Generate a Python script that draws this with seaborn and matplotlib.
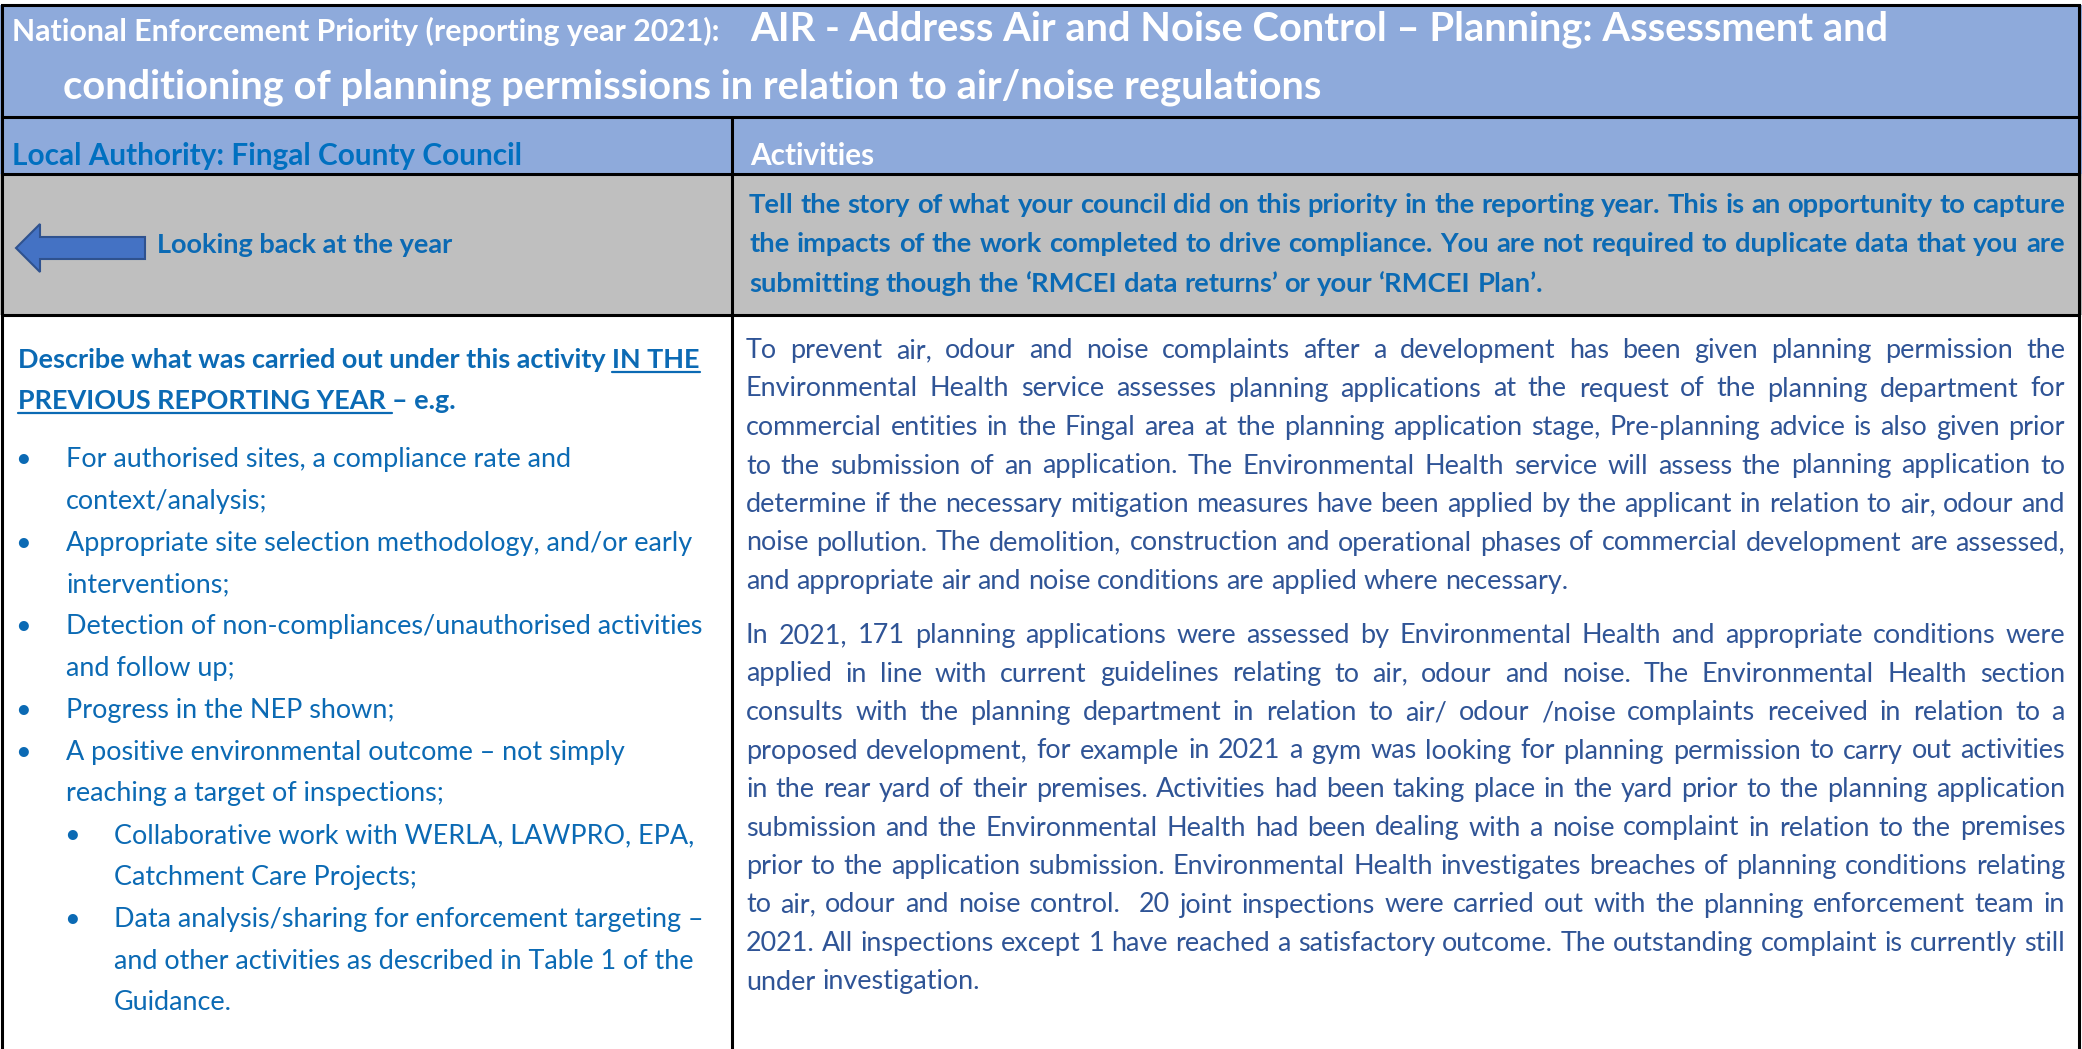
import matplotlib.pyplot as plt
import seaborn as sns
from matplotlib.patches import Rectangle, Polygon

# --- texte du tableau ---
title_small = "National Enforcement Priority (reporting year 2021):"
title_big = ["AIR - Address Air and Noise Control \u2013 Planning: Assessment and",
             "conditioning of planning permissions in relation to air/noise regulations"]
left_head = "Local Authority: Fingal County Council"
right_head = "Activities"
arrow_label = "Looking back at the year"
gray_lines = ["Tell the story of what your council did on this priority in the reporting year. This is an opportunity to capture",
              "the impacts of the work completed to drive compliance. You are not required to duplicate data that you are",
              "submitting though the \u2018RMCEI data returns\u2019 or your \u2018RMCEI Plan\u2019."]
describe_runs = [[("Describe what was carried out under this activity ", False), ("IN THE", True)],
                 [("PREVIOUS REPORTING YEAR ", True), ("\u2013 e.g.", False)]]
# (puce, texte) ; puce 0 = puce, 1 = sous-puce, None = suite de ligne
left_lines = [(0, "For authorised sites, a compliance rate and"),
              (None, "context/analysis;"),
              (0, "Appropriate site selection methodology, and/or early"),
              (None, "interventions;"),
              (0, "Detection of non-compliances/unauthorised activities"),
              (None, "and follow up;"),
              (0, "Progress in the NEP shown;"),
              (0, "A positive environmental outcome \u2013 not simply"),
              (None, "reaching a target of inspections;"),
              (1, "Collaborative work with WERLA, LAWPRO, EPA,"),
              (None, "Catchment Care Projects;"),
              (1, "Data analysis/sharing for enforcement targeting \u2013"),
              (None, "and other activities as described in Table 1 of the"),
              (None, "Guidance.")]
left_level = [0, 0, 0, 0, 0, 0, 0, 0, 0, 1, 1, 1, 1, 1]
para1 = ["To prevent air, odour and noise complaints after a development has been given planning permission the",
         "Environmental Health service assesses planning applications at the request of the planning department for",
         "commercial entities in the Fingal area at the planning application stage, Pre-planning advice is also given prior",
         "to the submission of an application. The Environmental Health service will assess the planning application to",
         "determine if the necessary mitigation measures have been applied by the applicant in relation to air, odour and",
         "noise pollution. The demolition, construction and operational phases of commercial development are assessed,",
         "and appropriate air and noise conditions are applied where necessary."]
para2 = ["In 2021, 171 planning applications were assessed by Environmental Health and appropriate conditions were",
         "applied in line with current guidelines relating to air, odour and noise. The Environmental Health section",
         "consults with the planning department in relation to air/ odour /noise complaints received in relation to a",
         "proposed development, for example in 2021 a gym was looking for planning permission to carry out activities",
         "in the rear yard of their premises. Activities had been taking place in the yard prior to the planning application",
         "submission and the Environmental Health had been dealing with a noise complaint in relation to the premises",
         "prior to the application submission. Environmental Health investigates breaches of planning conditions relating",
         "to air, odour and noise control.  20 joint inspections were carried out with the planning enforcement team in",
         "2021. All inspections except 1 have reached a satisfactory outcome. The outstanding complaint is currently still",
         "under investigation."]

HEAD_BLUE = "#8EAADB"
GRAY = "#BFBFBF"
TXT_BLUE = "#0B6AB4"
BODY_BLUE = "#2F5496"

sns.set_theme(style="white")
plt.rcParams['font.family'] = ['Lato', 'DejaVu Sans']

W, H = 2082, 1049
fig = plt.figure(figsize=(W / 100, H / 100), dpi=100)
ax = fig.add_axes([0, 0, 1, 1])
ax.set_xlim(0, W)
ax.set_ylim(H, 0)
ax.axis('off')
renderer = fig.canvas.get_renderer()


def measure(s, size, weight='normal'):
    if not s:
        return 0.0
    t = ax.text(0, 0, s, fontsize=size, fontweight=weight)
    w = t.get_window_extent(renderer).width
    t.remove()
    return w


def space_w(size, weight='normal'):
    return measure('a a', size, weight) - measure('aa', size, weight)


def fit(s, target, weight='normal'):
    return 20 * target / measure(s, 20, weight)


def block_size(lines, x0, x1, last_w, weight='normal'):
    sizes = [fit(lines[-1], last_w, weight)]
    for ln in lines[:-1]:
        sizes.append(fit(ln, x1 - x0, weight))
    return min(sizes)


def put_line(line, x0, x1, yb, size, color, weight='normal', justify=True):
    words = line.split(' ')
    ws = [measure(w, size, weight) for w in words]
    if justify and len(words) > 1:
        gap = (x1 - x0 - sum(ws)) / (len(words) - 1)
    else:
        gap = space_w(size, weight)
    x = x0
    for w, wd in zip(words, ws):
        if w:
            ax.text(x, yb, w, fontsize=size, fontweight=weight, color=color,
                    va='baseline', ha='left')
        x += wd + gap


# --- fonds des cellules ---
ax.add_patch(Rectangle((0, 5), W, 112, color=HEAD_BLUE, lw=0))
ax.add_patch(Rectangle((0, 117), W, 57, color=HEAD_BLUE, lw=0))
ax.add_patch(Rectangle((0, 174), W, 141, color=GRAY, lw=0))

# --- bordures ---
lw = 2.2
for y in [5, 117, 174, 315]:
    ax.plot([2, 2079], [y, y], color='black', lw=lw, solid_capstyle='projecting')
ax.plot([2, 2], [5, H], color='black', lw=lw)
ax.plot([2079, 2079], [5, H], color='black', lw=lw)
ax.plot([732, 732], [117, H], color='black', lw=lw)

# --- titre ---
s_small = fit(title_small, 705, 'bold')
ax.text(12, 41, title_small, fontsize=s_small, fontweight='bold', color='white', va='baseline')
s_big = (fit(title_big[0], 1128, 'bold') + fit(title_big[1], 1271, 'bold')) / 2
ax.text(750, 41, title_big[0], fontsize=s_big, fontweight='bold', color='white', va='baseline')
ax.text(63, 99, title_big[1], fontsize=s_big, fontweight='bold', color='white', va='baseline')

# --- ligne d'en-tête ---
s_head = fit(left_head, 510, 'bold')
ax.text(12, 165, left_head, fontsize=s_head, fontweight='bold', color='#0070C0', va='baseline')
ax.text(750, 165, right_head, fontsize=s_head, fontweight='bold', color='white', va='baseline')

# --- flèche + libellé ---
arrow = Polygon([(16, 248), (40, 224), (40, 237), (145, 237), (145, 259), (40, 259), (40, 272)],
                closed=True, facecolor='#4472C4', edgecolor='#2F528F', lw=1.5)
ax.add_patch(arrow)
s_arrow = fit(arrow_label, 295, 'bold')
ax.text(157, 253, arrow_label, fontsize=s_arrow, fontweight='bold', color=TXT_BLUE, va='baseline')

# --- texte gris (justifié) ---
s_gray = block_size(gray_lines, 749, 2065, 800, 'bold')
for i, ln in enumerate(gray_lines):
    put_line(ln, 749, 2065, 213 + 39.5 * i, s_gray, TXT_BLUE, 'bold',
             justify=(i < len(gray_lines) - 1))

# --- colonne gauche ---
s_desc = fit("Describe what was carried out under this activity IN THE", 683, 'bold')
for row, yb in zip(describe_runs, [368, 409]):
    x = 18
    for txt, under in row:
        wd = measure(txt, s_desc, 'bold')
        ax.text(x, yb, txt, fontsize=s_desc, fontweight='bold', color=TXT_BLUE, va='baseline')
        if under:
            ax.plot([x, x + wd], [yb + 4, yb + 4], color=TXT_BLUE, lw=1.6)
        x += wd

s_left = fit("Detection of non-compliances/unauthorised activities", 640)
text_x = [66, 114]
dot_x = [23, 72]
for i, ((lvl, txt), level) in enumerate(zip(left_lines, left_level)):
    yb = 467 + 41.8 * i
    if lvl is not None:
        ax.text(dot_x[lvl], yb, "\u2022", fontsize=s_left, color=TXT_BLUE, va='baseline', ha='center')
    ax.text(text_x[level], yb, txt, fontsize=s_left, color=TXT_BLUE, va='baseline')

# --- colonne droite (justifiée) ---
s_body = min(block_size(para1, 746, 2065, 836), block_size(para2, 746, 2065, 238))
for start, para in [(358, para1), (643, para2)]:
    for i, ln in enumerate(para):
        put_line(ln, 746, 2065, start + 38.5 * i, s_body, BODY_BLUE,
                 justify=(i < len(para) - 1))

fig.savefig('out.png', dpi=100)
